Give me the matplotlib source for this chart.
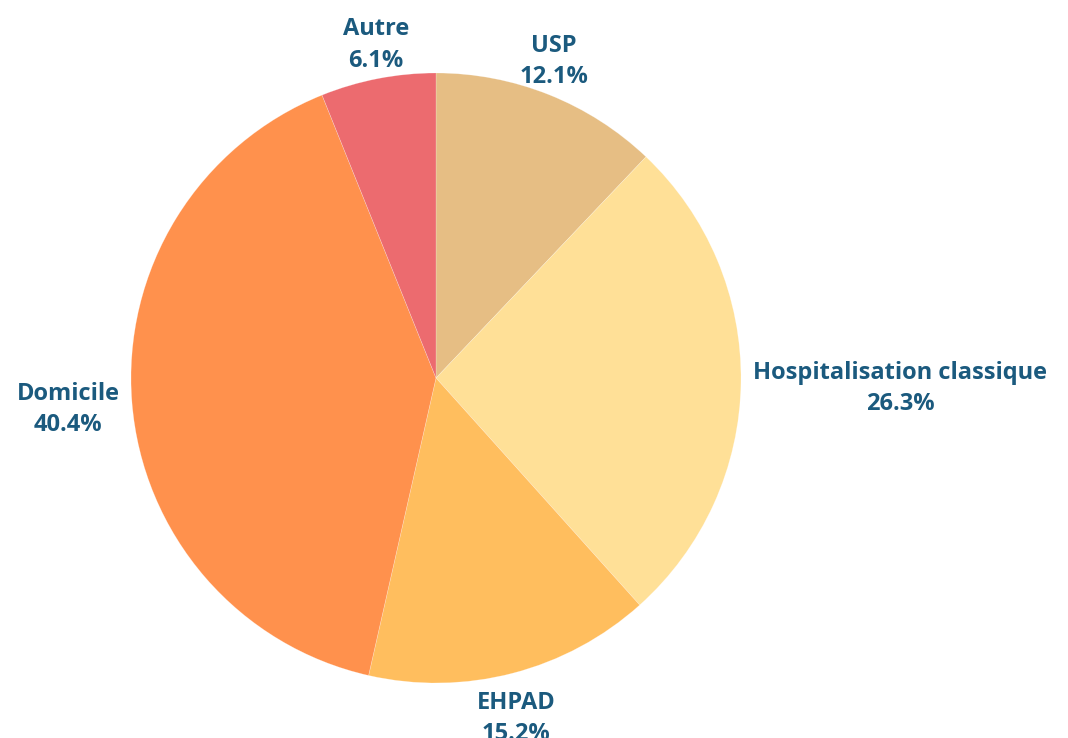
import numpy as np
import matplotlib
matplotlib.use("Agg")
import matplotlib.pyplot as plt

labels = ["USP", "Hospitalisation classique", "EHPAD", "Domicile", "Autre"]
values = [12.1, 26.3, 15.2, 40.4, 6.1]
colors = ["#E6BE84", "#FFE097", "#FFBE5E", "#FF914D", "#EC6B6F"]
text_color = "#1B5A7E"

W, H = 1068, 738
cx, cy, R = 436, 378, 305

fig = plt.figure(figsize=(W / 100, H / 100), dpi=100, facecolor="white")
ax = fig.add_axes([0, 0, 1, 1])

wedges, _ = ax.pie(values, colors=colors, startangle=90, counterclock=False, radius=1,
                   wedgeprops=dict(edgecolor=(1, 1, 1, 0.35), linewidth=0.4))
ax.set_xlim(-cx / R, (W - cx) / R)
ax.set_ylim(-(H - cy) / R, cy / R)
ax.set_aspect("equal")
ax.axis("off")

for w, lab, v in zip(wedges, labels, values):
    th = np.deg2rad((w.theta1 + w.theta2) / 2)
    c, s = np.cos(th), np.sin(th)
    ha = "left" if c > 0.5 else ("right" if c < -0.5 else "center")
    va = "bottom" if s > 0.5 else ("top" if s < -0.5 else "center")
    ax.text(1.04 * c, 1.04 * s - 0.02, f"{lab}\n{v:.1f}%", ha=ha, va=va, multialignment="center",
            fontsize=17, fontweight="bold", family=["Open Sans", "DejaVu Sans"],
            color=text_color, linespacing=1.4)

fig.savefig("out.png", dpi=100, facecolor="white")
